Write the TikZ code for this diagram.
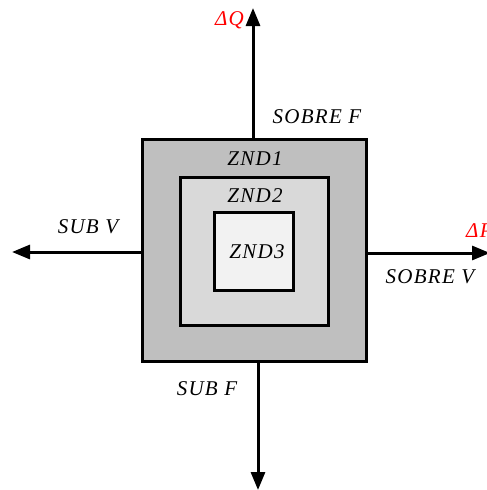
\documentclass[tikz,border=0pt]{standalone}
\usepackage{fontspec}
\setmainfont{Liberation Serif}[LetterSpace=6]
\usetikzlibrary{arrows.meta}
\tikzset{zone/.style = {draw, line width=3pt, inner sep=0pt},
         axis/.style = {line width=3pt, -{Triangle[length=18pt,width=14pt]}},
         lbl/.style  = {font=\fontsize{21}{23}\selectfont\itshape, inner sep=1pt}}
\definecolor{zoneone}{HTML}{BFBFBF}
\definecolor{zonetwo}{HTML}{D9D9D9}
\definecolor{zonethree}{HTML}{F2F2F2}

\begin{document}
\begin{tikzpicture}[x=1pt, y=-1pt]
        \useasboundingbox (0,0) rectangle (487,490);
        % the three zones
        \node (zone1) [zone, fill=zoneone, minimum width=224pt, minimum height=222pt] at (254,250) {};
        \node (zone2) [zone, fill=zonetwo, minimum width=148pt, minimum height=148pt] at (254,251) {};
        \node (zone3) [zone, fill=zonethree, minimum width=79pt, minimum height=78pt] at (253.5,251) {};
        \node (lzone1) [lbl] at (255,159) {ZND1};
        \node (lzone2) [lbl] at (255,196) {ZND2};
        \node (lzone3) [lbl] at (257,252) {ZND3};
        % axes
        \coordinate (qtop) at (253,8);
        \coordinate (qbot) at (258,490);
        \coordinate (pleft) at (12,252);
        \coordinate (pright) at (490,253);
        \draw [axis] (zone1.north -| qtop) -- (qtop);
        \draw [axis] (zone1.south -| qbot) -- (qbot);
        \draw [axis] (zone1.west |- pleft) -- (pleft);
        \draw [axis] (zone1.east |- pright) -- (pright);
        \node (dq) [lbl, text=red, anchor=east] at (245,20) {ΔQ};
        \node (dp) [lbl, text=red, anchor=west] at (465,231) {ΔP};
        \node (sobref) [lbl] at (317,117) {SOBRE F};
        \node (subv) [lbl] at (88,227) {SUB V};
        \node (sobrev) [lbl] at (430,277) {SOBRE V};
        \node (subf) [lbl] at (207,389) {SUB F};
      \end{tikzpicture}
\end{document}
